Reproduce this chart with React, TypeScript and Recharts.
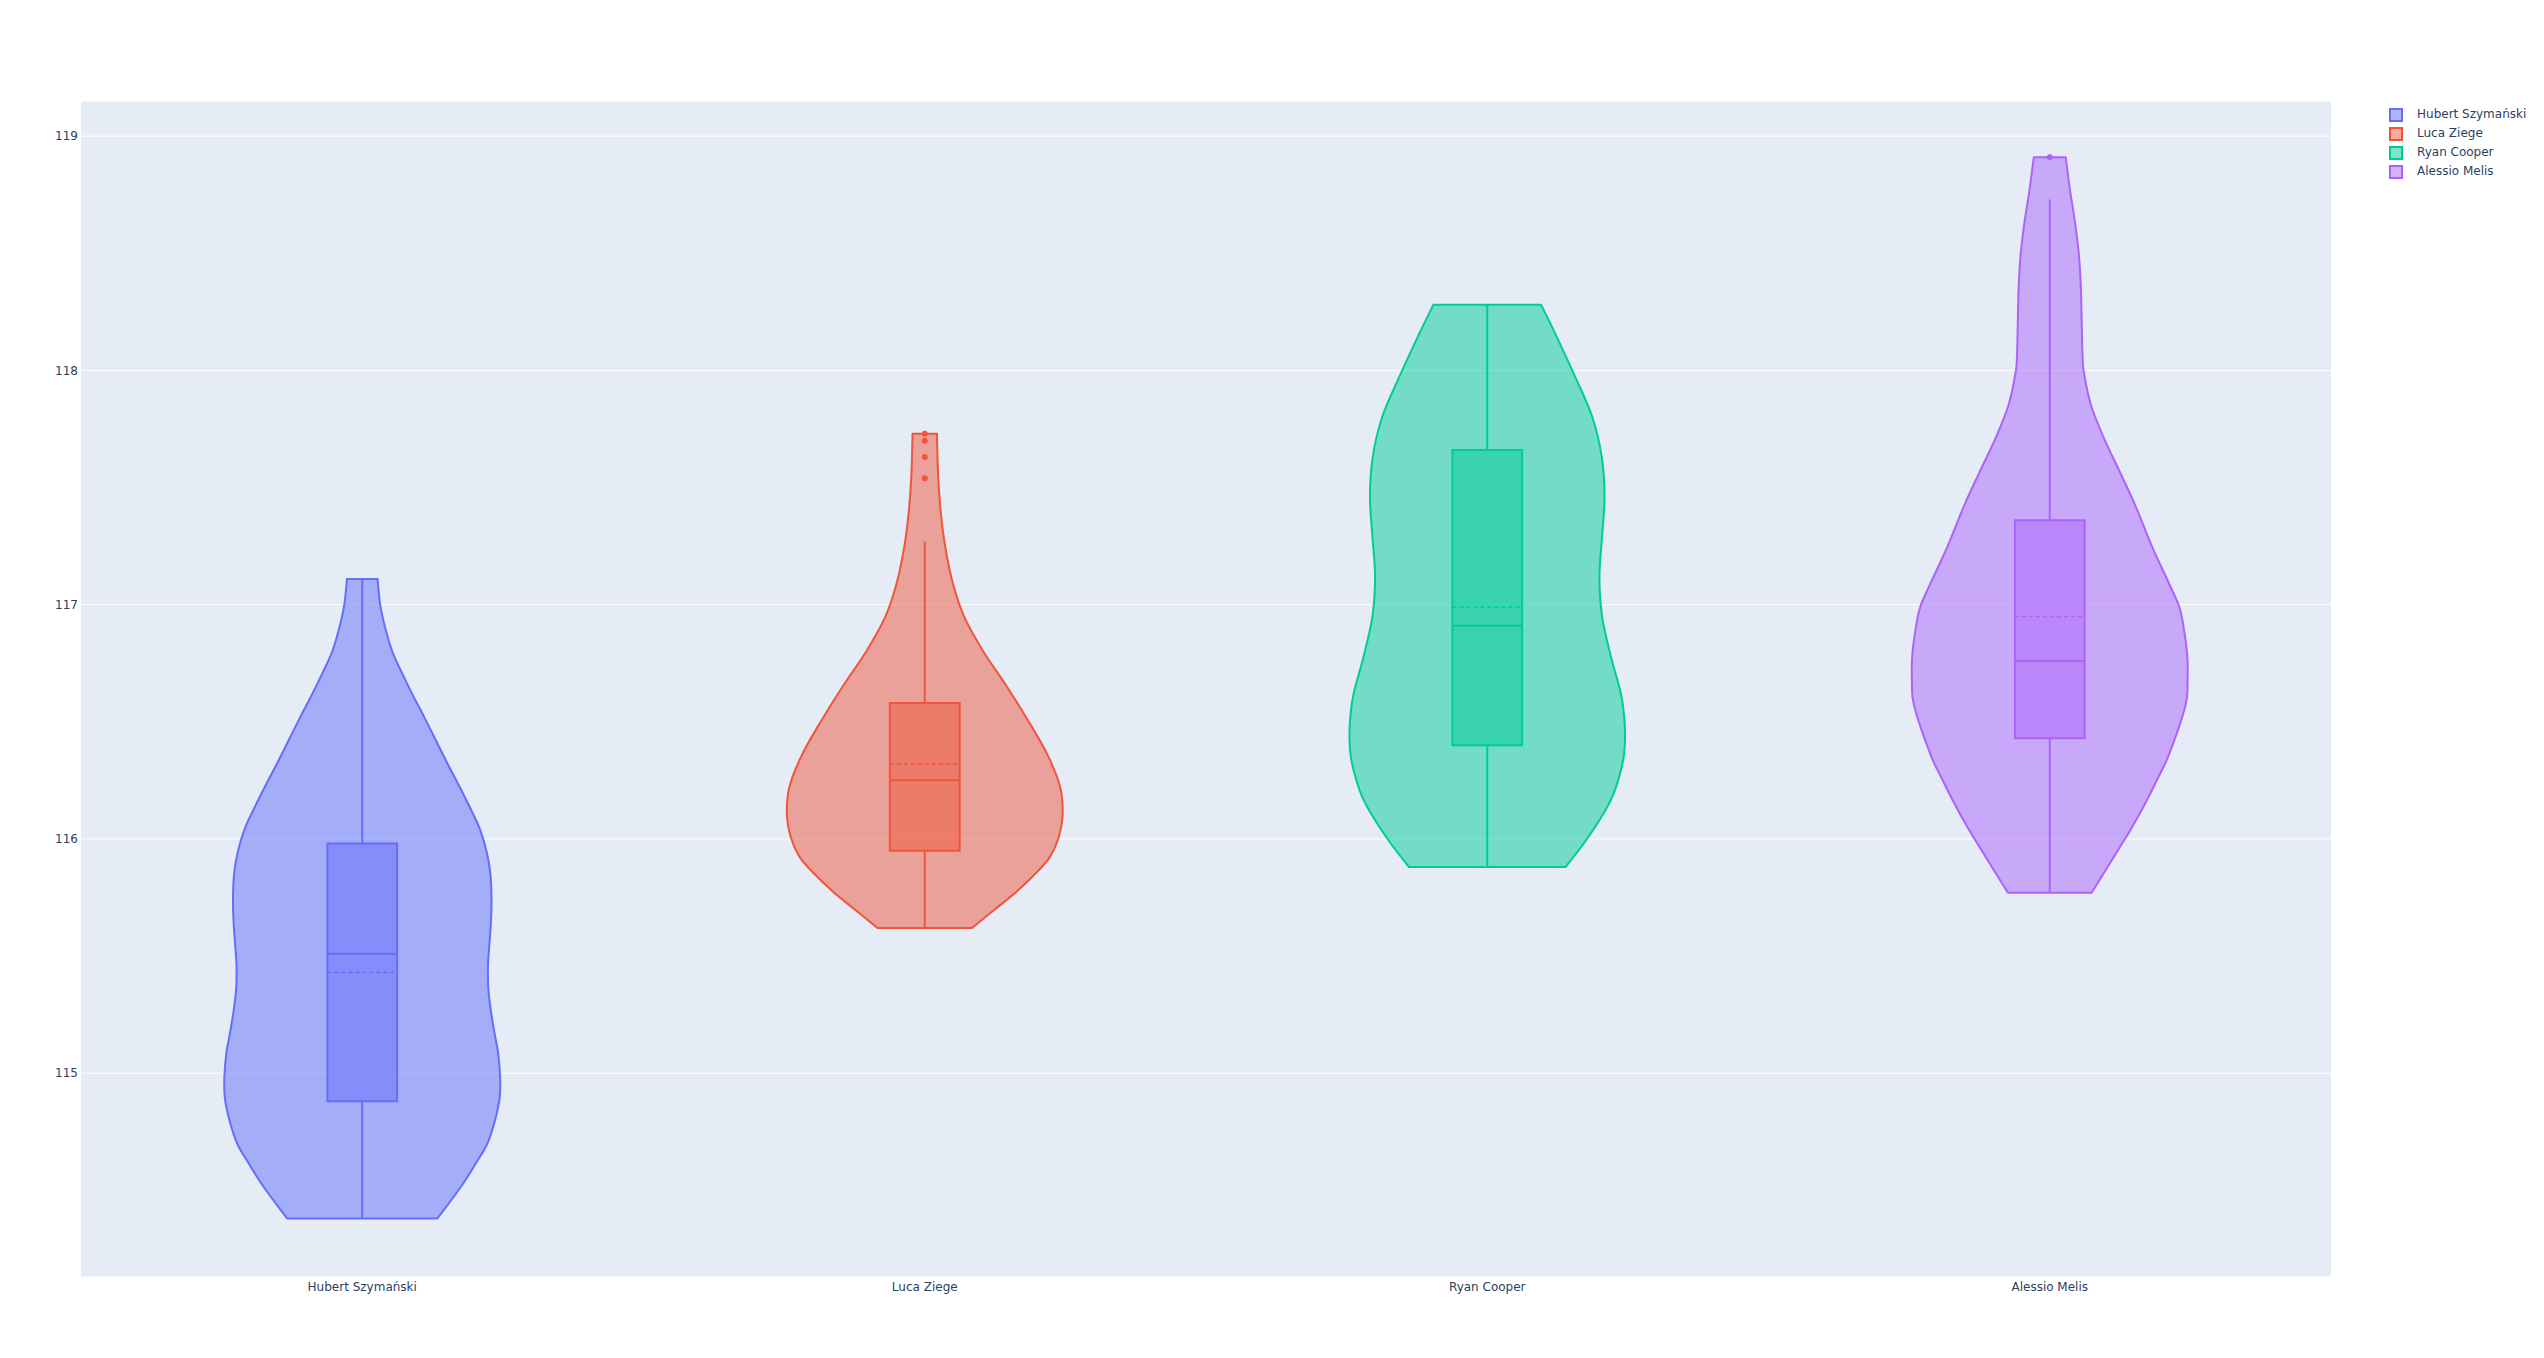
import React from "react";
import {
  ScatterChart,
  Scatter,
  XAxis,
  YAxis,
  CartesianGrid,
  ReferenceArea,
  ReferenceLine,
  ReferenceDot,
} from "recharts";

const players = ["Hubert Szymański", "Luca Ziege", "Ryan Cooper", "Alessio Melis"];
const colors = ["#636efa", "#EF553B", "#00cc96", "#ab63fa"];
const yTicks = [115, 116, 117, 118, 119];

// violin profiles: y level and relative width (1 = widest point)
const hubertY = [114.38, 114.51, 114.61, 114.7, 114.8, 114.9, 114.99, 115.09, 115.18, 115.28, 115.37, 115.47, 115.56, 115.66, 115.75, 115.85, 115.94, 116.04, 116.13, 116.23, 116.32, 116.42, 116.52, 116.61, 116.7, 116.8, 116.9, 117.0, 117.11];
const hubertW = [0.546, 0.71, 0.819, 0.908, 0.964, 0.998, 1.0, 0.985, 0.957, 0.93, 0.914, 0.913, 0.924, 0.935, 0.938, 0.93, 0.905, 0.855, 0.785, 0.7, 0.62, 0.535, 0.45, 0.37, 0.295, 0.218, 0.167, 0.13, 0.111];

const lucaY = [115.62, 115.7, 115.77, 115.85, 115.92, 116.0, 116.1, 116.22, 116.36, 116.51, 116.66, 116.8, 116.95, 117.1, 117.25, 117.39, 117.54, 117.69, 117.73];
const lucaW = [0.343, 0.51, 0.657, 0.8, 0.905, 0.968, 1.0, 0.983, 0.89, 0.745, 0.585, 0.425, 0.285, 0.2, 0.148, 0.117, 0.098, 0.09, 0.089];

const ryanY = [115.88, 115.99, 116.11, 116.19, 116.28, 116.36, 116.45, 116.53, 116.62, 116.78, 116.95, 117.12, 117.29, 117.46, 117.63, 117.8, 117.97, 118.14, 118.28];
const ryanW = [0.568, 0.712, 0.845, 0.915, 0.964, 0.992, 1.0, 0.992, 0.97, 0.897, 0.833, 0.814, 0.833, 0.851, 0.831, 0.763, 0.64, 0.507, 0.391];

const alessioY = [115.77, 115.95, 116.05, 116.16, 116.26, 116.36, 116.57, 116.68, 116.78, 116.89, 116.99, 117.1, 117.24, 117.42, 117.56, 117.71, 117.85, 117.99, 118.06, 118.2, 118.35, 118.49, 118.63, 118.77, 118.91];
const alessioW = [0.304, 0.493, 0.597, 0.7, 0.785, 0.865, 0.985, 1.0, 0.998, 0.975, 0.94, 0.858, 0.748, 0.623, 0.514, 0.394, 0.3, 0.248, 0.238, 0.232, 0.226, 0.212, 0.184, 0.147, 0.116];

// box statistics per player
const lowerFence = [114.38, 115.62, 115.88, 115.77];
const q1 = [114.88, 115.95, 116.4, 116.43];
const medians = [115.51, 116.25, 116.91, 116.76];
const means = [115.43, 116.32, 116.99, 116.95];
const q3 = [115.98, 116.58, 117.66, 117.36];
const upperFence = [117.11, 117.27, 118.28, 118.73];
const outliers = [[], [117.54, 117.63, 117.7, 117.73], [], [118.91]];

const profiles = [
  [hubertY, hubertW],
  [lucaY, lucaW],
  [ryanY, ryanW],
  [alessioY, alessioW],
];

const HALF = 0.245; // max violin half width, in category units
const BOX = 0.062; // box half width
const FONT = '"DejaVu Sans", Verdana, sans-serif';
const TEXT = "#2a3f5f";

function outline(idx: number, ys: number[], ws: number[]) {
  const left = ys.map((y, k) => ({ x: idx - HALF * ws[k], y }));
  const right = ys.map((y, k) => ({ x: idx + HALF * ws[k], y })).reverse();
  return [...left, ...right];
}

type Pt = { x: number; y: number };

function segs(pts: Pt[]) {
  let d = "";
  for (let i = 0; i < pts.length - 1; i++) {
    const p0 = pts[Math.max(i - 1, 0)];
    const p1 = pts[i];
    const p2 = pts[i + 1];
    const p3 = pts[Math.min(i + 2, pts.length - 1)];
    const c1x = p1.x + (p2.x - p0.x) / 6;
    const c1y = p1.y + (p2.y - p0.y) / 6;
    const c2x = p2.x - (p3.x - p1.x) / 6;
    const c2y = p2.y - (p3.y - p1.y) / 6;
    d += ` C${c1x},${c1y} ${c2x},${c2y} ${p2.x},${p2.y}`;
  }
  return d;
}

function violinPath(points: Pt[], n: number) {
  const left = points.slice(0, n);
  const right = points.slice(n);
  return `M${left[0].x},${left[0].y}${segs(left)} L${right[0].x},${right[0].y}${segs(right)} Z`;
}

export default function App() {
  return (
    <div style={{ position: "relative", width: 2544, height: 1358, background: "#fff" }}>
      <style>{"body{margin:0}"}</style>
      <ScatterChart width={2544} height={1358} margin={{ top: 101, right: 213, bottom: 51, left: 1 }}>
        <CartesianGrid vertical={false} stroke="#ffffff" strokeWidth={1} fill="#E5ECF6" fillOpacity={1} />
        <XAxis
          type="number"
          dataKey="x"
          domain={[-0.5, 3.5]}
          ticks={[0, 1, 2, 3]}
          interval={0}
          allowDataOverflow
          tickFormatter={(v: number) => players[v] ?? ""}
          axisLine={false}
          tickLine={false}
          tickSize={0}
          tickMargin={5}
          height={30}
          tick={{ fill: TEXT, fontSize: 12, fontFamily: FONT }}
        />
        <YAxis
          type="number"
          dataKey="y"
          domain={[114.13, 119.15]}
          ticks={yTicks}
          allowDataOverflow
          axisLine={false}
          tickLine={false}
          tickSize={0}
          tickMargin={3}
          width={80}
          tick={{ fill: TEXT, fontSize: 12, fontFamily: FONT }}
        />
        {profiles.map(([ys, ws], i) => (
          <Scatter
            key={players[i]}
            name={players[i]}
            data={outline(i, ys, ws)}
            isAnimationActive={false}
            legendType="none"
            shape={() => <g />}
            line={(p: any) => (
              <path
                d={violinPath(p.points, ys.length)}
                fill={colors[i]}
                fillOpacity={0.5}
                stroke={colors[i]}
                strokeWidth={2}
                strokeLinejoin="round"
              />
            )}
          />
        ))}
        {players.map((name, i) => (
          <ReferenceLine
            key={name + "-lw"}
            segment={[{ x: i, y: lowerFence[i] }, { x: i, y: q1[i] }]}
            stroke={colors[i]}
            strokeWidth={2}
          />
        ))}
        {players.map((name, i) => (
          <ReferenceLine
            key={name + "-uw"}
            segment={[{ x: i, y: q3[i] }, { x: i, y: upperFence[i] }]}
            stroke={colors[i]}
            strokeWidth={2}
          />
        ))}
        {players.map((name, i) => (
          <ReferenceArea
            key={name + "-box"}
            x1={i - BOX}
            x2={i + BOX}
            y1={q1[i]}
            y2={q3[i]}
            fill={colors[i]}
            fillOpacity={0.5}
            stroke={colors[i]}
            strokeWidth={2}
            strokeOpacity={1}
          />
        ))}
        {players.map((name, i) => (
          <ReferenceLine
            key={name + "-med"}
            segment={[{ x: i - BOX, y: medians[i] }, { x: i + BOX, y: medians[i] }]}
            stroke={colors[i]}
            strokeWidth={2}
          />
        ))}
        {players.map((name, i) => (
          <ReferenceLine
            key={name + "-mean"}
            segment={[{ x: i - BOX, y: means[i] }, { x: i + BOX, y: means[i] }]}
            stroke={colors[i]}
            strokeWidth={1.5}
            strokeDasharray="4 3"
          />
        ))}
        {outliers.flatMap((vals, i) =>
          vals.map((v, k) => (
            <ReferenceDot key={players[i] + "-o" + k} x={i} y={v} r={3} fill={colors[i]} stroke="none" />
          ))
        )}
      </ScatterChart>
      <div style={{ position: "absolute", left: 2389, top: 105, fontFamily: FONT, fontSize: 12, color: TEXT }}>
        {players.map((name, i) => (
          <div key={name} style={{ position: "relative", height: 19, lineHeight: "19px", whiteSpace: "nowrap" }}>
            <span
              style={{
                position: "absolute",
                left: 0,
                top: 2.5,
                width: 10,
                height: 10,
                border: `2px solid ${colors[i]}`,
                background: colors[i] + "80",
              }}
            />
            <span style={{ position: "absolute", left: 28 }}>{name}</span>
          </div>
        ))}
      </div>
    </div>
  );
}
